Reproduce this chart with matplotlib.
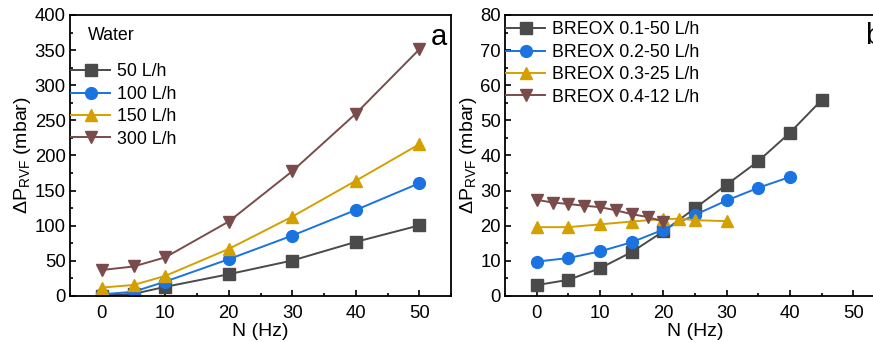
import matplotlib
matplotlib.use("Agg")
import matplotlib.pyplot as plt
from matplotlib.ticker import MultipleLocator

plt.rcParams['font.family'] = ['Liberation Sans', 'DejaVu Sans']
plt.rcParams['mathtext.fontset'] = 'custom'
plt.rcParams['mathtext.rm'] = 'Liberation Sans'
plt.rcParams['mathtext.it'] = 'Liberation Sans:italic'
plt.rcParams['mathtext.bf'] = 'Liberation Sans:bold'

# Panel a: water
n_a = [0, 5, 10, 20, 30, 40, 50]
water_50 = [0.5, 3, 13, 31, 50.5, 77, 100.5]
water_100 = [2.4, 6, 20.5, 52.4, 86, 122.4, 160.5]
water_150 = [12, 15.7, 28.6, 67, 113, 164, 216]
water_300 = [37, 42, 55, 106, 177.6, 259.5, 351]
labels_a = ['50 L/h', '100 L/h', '150 L/h', '300 L/h']

# Panel b: BREOX
n_b1 = [0, 5, 10, 15, 20, 25, 30, 35, 40, 45]
breox_01 = [3.1, 4.6, 7.9, 12.5, 18.4, 25, 31.7, 38.4, 46.5, 55.8]
n_b2 = [0, 5, 10, 15, 20, 25, 30, 35, 40]
breox_02 = [9.8, 10.8, 12.7, 15.3, 18.9, 23.1, 27.2, 30.8, 33.9]
n_b3 = [0, 5, 10, 15, 20, 22.5, 25, 30]
breox_03 = [19.6, 19.6, 20.4, 21.2, 21.9, 22.0, 21.6, 21.3]
n_b4 = [0, 2.5, 5, 7.5, 10, 12.5, 15, 17.5, 20]
breox_04 = [27.4, 26.6, 26.2, 25.7, 25.3, 24.4, 23.3, 22.5, 21.2]
labels_b = ['BREOX 0.1-50 L/h', 'BREOX 0.2-50 L/h', 'BREOX 0.3-25 L/h', 'BREOX 0.4-12 L/h']

colors = ['#4a4a4a', '#1a73e0', '#d4a000', '#7a4b4b']
markers = ['s', 'o', '^', 'v']

W, H = 873, 342
fig = plt.figure(figsize=(W / 100, H / 100), dpi=100)

def px_axes(l, t, r, b):
    return fig.add_axes([l / W, 1 - b / H, (r - l) / W, (b - t) / H])

def fx(x):
    return x / W

def fy(y):
    return 1 - y / H

axa = px_axes(70, 15, 451, 296)
axb = px_axes(505, 15, 885, 296)

tfs = 13.3
lfs = 14
legfs = 12.8
ylab = r'$\Delta$P$_{\mathrm{RVF}}$ (mbar)'

def style(ax, ymax, ymaj, ymin):
    ax.set_xlim(-5, 55)
    ax.set_ylim(0, ymax)
    ax.xaxis.set_major_locator(MultipleLocator(10))
    ax.xaxis.set_minor_locator(MultipleLocator(5))
    ax.yaxis.set_major_locator(MultipleLocator(ymaj))
    ax.yaxis.set_minor_locator(MultipleLocator(ymin))
    ax.tick_params(which='both', direction='in', labelsize=tfs, width=1.2)
    ax.tick_params(axis='x', which='both', pad=6.5)
    ax.tick_params(axis='y', which='both', pad=3)
    ax.tick_params(which='major', length=4)
    ax.tick_params(which='minor', length=2)
    for s in ax.spines.values():
        s.set_linewidth(1.3)
    ax.set_xlabel('N (Hz)', fontsize=lfs, labelpad=1)
    ax.set_ylabel(ylab, fontsize=lfs, labelpad=1)

series_a = [water_50, water_100, water_150, water_300]
for y, lab, c, m in zip(series_a, labels_a, colors, markers):
    axa.plot(n_a, y, color=c, marker=m, markersize=8.5, linewidth=1.4,
             label=lab, markeredgecolor=c)
style(axa, 400, 50, 25)
fig.text(fx(88), fy(35), 'Water', fontsize=legfs, va='center', ha='left')
fig.text(fx(447), fy(37), 'a', fontsize=21, va='center', ha='right')
axa.legend(loc='upper left', bbox_to_anchor=(fx(71), fy(63.5)), bbox_transform=fig.transFigure,
           frameon=False, fontsize=legfs,
           handlelength=2.2, handletextpad=0.4, labelspacing=0.3, borderpad=0,
           borderaxespad=0)

series_b = [(n_b1, breox_01), (n_b2, breox_02), (n_b3, breox_03), (n_b4, breox_04)]
for (x, y), lab, c, m in zip(series_b, labels_b, colors, markers):
    axb.plot(x, y, color=c, marker=m, markersize=8.5, linewidth=1.4,
             label=lab, markeredgecolor=c)
style(axb, 80, 10, 5)
fig.text(fx(865), fy(36), 'b', fontsize=21, va='center', ha='left')
axb.legend(loc='upper left', bbox_to_anchor=(fx(506), fy(21.5)), bbox_transform=fig.transFigure,
           frameon=False, fontsize=legfs,
           handlelength=2.2, handletextpad=0.4, labelspacing=0.3, borderpad=0,
           borderaxespad=0)

fig.savefig('out.png', dpi=100)
